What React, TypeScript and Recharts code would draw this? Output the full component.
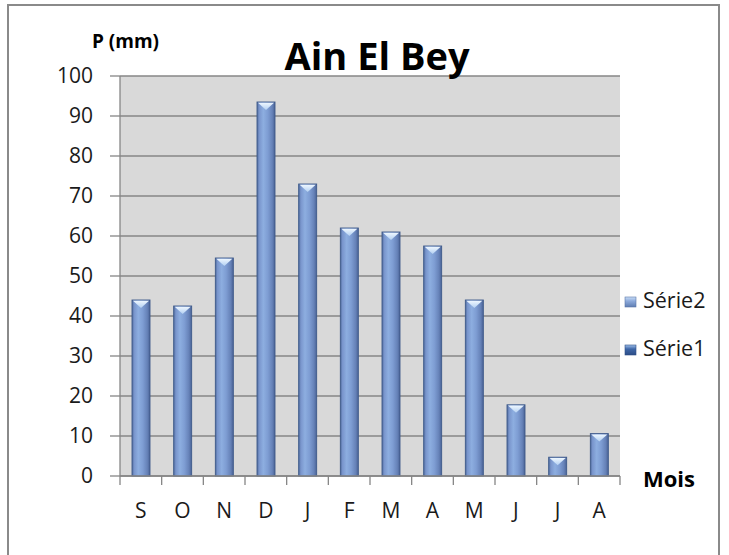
import React from 'react';
import { BarChart, Bar, XAxis, YAxis, CartesianGrid, Legend } from 'recharts';

const months = ['S', 'O', 'N', 'D', 'J', 'F', 'M', 'A', 'M', 'J', 'J', 'A'];
const serie2 = [44, 42.5, 54.5, 93.5, 73, 62, 61, 57.5, 44, 17.8, 4.7, 10.6];
const serie1 = [null, null, null, null, null, null, null, null, null, null, null, null];
const yTicks = [0, 10, 20, 30, 40, 50, 60, 70, 80, 90, 100];
const seriesNames = ['Série2', 'Série1'];

const data = months.map((m, i) => ({ mois: m, s2: serie2[i], s1: serie1[i] }));

const W = 729;
const H = 555;
const PLOT_LEFT = 120;
const PLOT_RIGHT = 620;
const LEGEND_W = 105;
const STEP = (PLOT_RIGHT - PLOT_LEFT) / months.length;
const FONT = '"Open Sans", "DejaVu Sans", sans-serif';
const AXIS_GRAY = '#868686';

const BevelBar = (props: any) => {
  const { x, y, width, height } = props;
  if (!height || height <= 0.5) return null;
  const cap = Math.min(8, height);
  return (
    <g>
      <rect x={x} y={y} width={width} height={height} fill="url(#barGrad)" stroke="#3e5a8a" strokeWidth={0.9} />
      <polygon
        points={`${x + 1},${y + 0.8} ${x + width - 1},${y + 0.8} ${x + width / 2},${y + cap}`}
        fill="url(#capGrad)"
      />
    </g>
  );
};

const MonthTick = (props: any) => {
  const { x, y, payload, index } = props;
  return (
    <g>
      <line x1={x - STEP / 2} y1={y} x2={x - STEP / 2} y2={y + 9} stroke={AXIS_GRAY} strokeWidth={1.3} />
      {index === months.length - 1 && (
        <line x1={x + STEP / 2} y1={y} x2={x + STEP / 2} y2={y + 9} stroke={AXIS_GRAY} strokeWidth={1.3} />
      )}
      <text x={x} y={y + 42} textAnchor="middle" fontSize={21} fill="#1a1a1a">
        {payload.value}
      </text>
    </g>
  );
};

const LegendContent = () => (
  <svg width={LEGEND_W} height={80}>
    <defs>
      <linearGradient id="lg2" x1="0" y1="0" x2="0" y2="1">
        <stop offset="0" stopColor="#c9def7" />
        <stop offset="0.4" stopColor="#8eabdc" />
        <stop offset="1" stopColor="#5f7db2" />
      </linearGradient>
      <linearGradient id="lg1" x1="0" y1="0" x2="0" y2="1">
        <stop offset="0" stopColor="#9fc0ea" />
        <stop offset="0.4" stopColor="#3f67a8" />
        <stop offset="1" stopColor="#2b4c86" />
      </linearGradient>
    </defs>
    <rect x={5} y={12} width={11} height={10} fill="url(#lg2)" stroke="#5a77a8" strokeWidth={0.6} />
    <text x={23} y={23} fontSize={21.5} fill="#1a1a1a" fontFamily={FONT}>{seriesNames[0]}</text>
    <rect x={5} y={60} width={11} height={10} fill="url(#lg1)" stroke="#2f4f85" strokeWidth={0.6} />
    <text x={23} y={71} fontSize={21.5} fill="#1a1a1a" fontFamily={FONT}>{seriesNames[1]}</text>
  </svg>
);

export default function App() {
  return (
    <div style={{ position: 'absolute', left: 0, top: 0, width: W, height: H, overflow: 'hidden', background: '#fff', fontFamily: FONT }}>
      <div
        style={{
          position: 'absolute',
          left: 7,
          top: 4,
          width: 713,
          height: 600,
          border: '2px solid #8a8a8a',
          boxSizing: 'border-box',
        }}
      />
      <div style={{ position: 'absolute', left: 0, top: 0 }}>
        <BarChart
          width={W}
          height={H}
          data={data}
          margin={{ top: 76, right: W - PLOT_RIGHT - LEGEND_W, bottom: 39, left: 0 }}
          barSize={18}
        >
          <defs>
            <linearGradient id="barGrad" x1="0" y1="0" x2="1" y2="0">
              <stop offset="0" stopColor="#4e6a9c" />
              <stop offset="0.12" stopColor="#7995cc" />
              <stop offset="0.35" stopColor="#8daee0" />
              <stop offset="0.6" stopColor="#7e9dd3" />
              <stop offset="0.85" stopColor="#6682b8" />
              <stop offset="1" stopColor="#4a6396" />
            </linearGradient>
            <linearGradient id="capGrad" x1="0" y1="0" x2="0" y2="1">
              <stop offset="0" stopColor="#eef7ff" />
              <stop offset="1" stopColor="#b3d0f2" />
            </linearGradient>
          </defs>
          <CartesianGrid vertical={false} fill="#d9d9d9" stroke={AXIS_GRAY} strokeWidth={1.3} />
          <XAxis
            dataKey="mois"
            height={40}
            tickLine={false}
            tickSize={0}
            tickMargin={0}
            axisLine={{ stroke: AXIS_GRAY, strokeWidth: 1.3 }}
            tick={<MonthTick />}
            interval={0}
          />
          <YAxis
            width={PLOT_LEFT}
            domain={[0, 100]}
            ticks={yTicks}
            interval={0}
            tickSize={10}
            tickMargin={17}
            axisLine={{ stroke: AXIS_GRAY, strokeWidth: 1.3 }}
            tickLine={{ stroke: AXIS_GRAY, strokeWidth: 1.3 }}
            tick={{ fontSize: 21, fill: '#1a1a1a' }}
          />
          <Legend
            layout="vertical"
            verticalAlign="middle"
            align="right"
            wrapperStyle={{ position: 'absolute', left: 620, top: 285, width: LEGEND_W, height: 80 }}
            content={<LegendContent />}
          />
          <Bar dataKey="s2" name={seriesNames[0]} stackId="p" shape={<BevelBar />} isAnimationActive={false} />
          <Bar dataKey="s1" name={seriesNames[1]} stackId="p" shape={<BevelBar />} isAnimationActive={false} />
          <text x={377} y={70} textAnchor="middle" fontSize={38} fontWeight="bold" fill="#000" fontFamily={FONT}>
            Ain El Bey
          </text>
          <text x={92} y={48} fontSize={19} fontWeight="bold" fill="#000" fontFamily={FONT}>
            P (mm)
          </text>
          <text x={643} y={487} fontSize={22} fontWeight="bold" fill="#000" fontFamily={FONT}>
            Mois
          </text>
        </BarChart>
      </div>
    </div>
  );
}
